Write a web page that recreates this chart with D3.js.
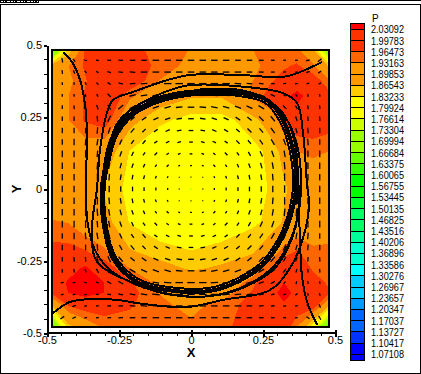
<!DOCTYPE html>
<html>
<head>
<meta charset="utf-8">
<script src="https://d3js.org/d3.v7.min.js"></script>
<style>
body { margin: 0; background: #fff; }
text { font-family: "Liberation Sans", Arial, sans-serif; fill: #000; }
.axis path, .axis line { stroke: #000; }
</style>
</head>
<body>
<div class="container"></div>
<script>
// legend levels, top to bottom
var levels = [2.03092, 1.99783, 1.96473, 1.93163, 1.89853, 1.86543, 1.83233, 1.79924, 1.76614, 1.73304,
              1.69994, 1.66684, 1.63375, 1.60065, 1.56755, 1.53445, 1.50135, 1.46825, 1.43516, 1.40206,
              1.36896, 1.33586, 1.30276, 1.26967, 1.23657, 1.20347, 1.17037, 1.13727, 1.10417, 1.07108];
var levelLabels = ["2.03092", "1.99783", "1.96473", "1.93163", "1.89853", "1.86543", "1.83233", "1.79924", "1.76614", "1.73304",
                   "1.69994", "1.66684", "1.63375", "1.60065", "1.56755", "1.53445", "1.50135", "1.46825", "1.43516", "1.40206",
                   "1.36896", "1.33586", "1.30276", "1.26967", "1.23657", "1.20347", "1.17037", "1.13727", "1.10417", "1.07108"];
// bandColors[i] is the band just above levels[i], the last one is below everything
var bandColors = ["#ff0000", "#ff3300", "#ff3300", "#ff6600", "#ff9900", "#ff9900", "#ffcc00", "#ffff00", "#ffff00", "#ccff00",
                  "#99ff00", "#99ff00", "#66ff00", "#33ff00", "#00ff00", "#00ff00", "#00ff33", "#00ff66", "#00ff66", "#00ff99",
                  "#00ffcc", "#00ffcc", "#00ffff", "#00ccff", "#00ccff", "#0099ff", "#0066ff", "#0066ff", "#0033ff", "#0000ff", "#0000ff"];

var axisTicks = [-0.5, -0.25, 0, 0.25, 0.5];
var axisTickLabels = ["-0.5", "-0.25", "0", "0.25", "0.5"];
var minorTicks = [-0.45, -0.4, -0.35, -0.3, -0.2, -0.15, -0.1, -0.05, 0.05, 0.1, 0.15, 0.2, 0.3, 0.35, 0.4, 0.45];

// pressure mesh, it is not uniform
var gridX = [-0.483, -0.427, -0.368, -0.299, -0.212, -0.108, 0, 0.108, 0.212, 0.274, 0.323, 0.368, 0.424, 0.479];
var gridY = [0.483, 0.427, 0.375, 0.323, 0.24, 0.128, 0, -0.115, -0.219, -0.274, -0.326, -0.361, -0.403, -0.479];
var pressure = [
  [1.60, 1.83, 1.97, 2.00, 1.98, 1.95, 1.93, 1.91, 1.93, 1.95, 1.95, 1.94, 1.88, 1.65],
  [1.90, 1.93, 1.97, 2.01, 2.00, 1.95, 1.92, 1.90, 1.92, 1.945, 1.96, 1.97, 1.94, 1.86],
  [1.90, 1.92, 1.96, 2.01, 2.00, 1.93, 1.90, 1.89, 1.93, 1.96, 1.98, 2.00, 1.99, 1.94],
  [1.90, 1.93, 1.97, 2.01, 1.94, 1.89, 1.87, 1.87, 1.94, 1.98, 2.01, 2.05, 2.00, 1.98],
  [1.89, 1.93, 1.97, 1.99, 1.88, 1.84, 1.82, 1.82, 1.85, 1.89, 1.97, 2.00, 2.00, 1.99],
  [1.89, 1.90, 1.90, 1.89, 1.83, 1.80, 1.79, 1.79, 1.82, 1.84, 1.88, 1.93, 1.94, 1.93],
  [1.89, 1.89, 1.88, 1.86, 1.82, 1.785, 1.765, 1.785, 1.815, 1.835, 1.86, 1.88, 1.89, 1.89],
  [1.935, 1.93, 1.90, 1.88, 1.83, 1.80, 1.785, 1.80, 1.825, 1.84, 1.87, 1.89, 1.90, 1.91],
  [1.98, 1.98, 1.97, 1.94, 1.87, 1.85, 1.835, 1.85, 1.86, 1.90, 1.95, 1.97, 1.94, 1.94],
  [1.98, 2.00, 2.04, 1.99, 1.93, 1.88, 1.86, 1.87, 1.90, 1.96, 2.00, 1.99, 1.96, 1.94],
  [1.98, 2.04, 2.06, 2.03, 1.97, 1.92, 1.89, 1.89, 1.95, 2.01, 2.03, 2.00, 1.98, 1.96],
  [1.97, 2.03, 2.05, 2.03, 1.98, 1.93, 1.90, 1.91, 1.97, 2.00, 2.06, 2.01, 2.00, 1.97],
  [1.87, 1.97, 1.99, 1.99, 1.97, 1.94, 1.92, 1.945, 1.98, 2.00, 2.02, 2.00, 2.00, 1.88],
  [1.62, 1.85, 1.90, 1.94, 1.945, 1.94, 1.94, 1.955, 1.985, 2.00, 2.00, 1.93, 1.80, 1.62]
];

// vector dashes: angle in degrees from horizontal, one row per vectorY
var vectorX = [-0.447, -0.406, -0.366, -0.325, -0.284, -0.244, -0.203, -0.163, -0.122, -0.081, -0.041, 0,
               0.041, 0.081, 0.122, 0.163, 0.203, 0.244, 0.284, 0.325, 0.366, 0.406, 0.447];
var vectorY = [0.447, 0.406, 0.366, 0.325, 0.284, 0.244, 0.203, 0.163, 0.122, 0.081, 0.041, 0,
               -0.041, -0.081, -0.122, -0.163, -0.203, -0.244, -0.284, -0.325, -0.366, -0.406, -0.447];
var vectorAngle = [
  [-80, -50, -20, -10, -5, -5, 0, 0, 0, 0, 0, 0, 0, 0, 0, 0, 0, 0, 0, 5, 5, 15, 40],
  [-80, -70, -50, -30, -15, -5, -5, 0, 0, 0, 0, 0, 0, 0, 0, 0, 0, 0, 0, 5, 10, 20, 35],
  [-85, -80, -65, -45, -30, -15, 5, 5, 5, 0, 0, 0, 0, 0, 0, -5, -5, -5, 0, 5, 10, 15, 30],
  [-90, -85, -75, -60, -45, 25, 15, 10, 5, 5, 0, 0, 0, -5, -5, -10, -15, -20, -25, -30, -50, -80, -85],
  [90, -85, -80, -70, -60, 40, 30, 25, 20, 15, 5, 0, -5, -10, -15, -20, -25, -30, -35, -45, -60, -80, -85],
  [90, 90, -85, -85, 65, 50, 40, 35, 25, 20, 10, 0, -10, -20, -25, -35, -40, -45, -50, -60, -70, -85, -85],
  [90, 90, 90, 85, 75, 60, 50, 45, 35, 25, 10, 0, -10, -25, -30, -40, -45, -50, -55, -65, -75, -85, -90],
  [90, 90, 85, 80, 75, 65, 55, 50, 35, 25, 15, 0, -15, -25, -35, -45, -50, -55, -60, -70, -80, -85, -90],
  [90, 90, 90, 85, 80, 70, 65, 55, 45, 35, 20, 0, -20, -35, -45, -55, -60, -65, -70, -80, -85, -90, -90],
  [90, 90, 90, 85, 80, 75, 70, 65, 55, 45, 25, 0, -25, -45, -55, -65, -70, -75, -80, -85, -85, -90, -90],
  [90, 90, 90, 90, 85, 80, 80, 75, 70, 65, 45, 0, -45, -65, -70, -75, -80, -80, -85, -90, -90, -90, -90],
  [90, 90, 90, 90, 90, 90, 90, 90, 90, 90, 90, 0, 90, 90, 90, 90, 90, 90, 90, 90, 90, 90, 90],
  [90, 90, 90, 90, -85, -80, -80, -75, -70, -65, -45, 0, 45, 65, 70, 75, 80, 80, 85, 90, 90, 90, 90],
  [90, 90, 90, -85, -80, -75, -70, -65, -55, -45, -25, 0, 25, 45, 55, 65, 70, 75, 80, 85, 85, 90, 90],
  [90, 90, 90, -85, -80, -70, -65, -55, -45, -35, -20, 0, 20, 35, 45, 55, 60, 65, 70, 80, 85, 90, 90],
  [90, 90, -85, -80, -75, -65, -55, -50, -35, -25, -15, 0, 15, 25, 35, 45, 50, 55, 60, 70, 80, 85, 90],
  [90, 90, -90, -85, -75, -60, -50, -45, -35, -25, -10, 0, 10, 25, 30, 40, 45, 50, 55, 65, 75, 85, 90],
  [90, -85, -85, -75, -65, -50, -40, -35, -25, -20, -10, 0, 10, 20, 25, 35, 40, 45, 50, 60, 70, 85, -85],
  [-90, -80, -70, -60, -50, -40, -30, -25, -20, -15, -5, 0, 5, 10, 15, 20, 25, 30, 35, 55, 75, -85, -85],
  [10, 10, -10, -20, -30, -30, -20, -15, -10, -5, 0, 0, 0, 5, 5, 10, 15, 20, 30, 45, 75, -80, -80],
  [15, 15, 5, 0, -5, -10, -10, -10, -5, -5, 0, 0, 0, 0, 5, 5, 5, 10, 15, 20, 40, -75, -75],
  [25, 20, 15, 10, 5, 0, -5, -5, -5, 0, 0, 0, 0, 0, 0, 0, 0, 5, 5, 5, 10, -50, -65],
  [35, 25, 15, 10, 5, 5, 0, 0, 0, 0, 0, 0, 0, 0, 0, 0, 0, 0, 0, 0, 5, -30, -60]
];
// speed for one quadrant, rows and columns count out from the centre
var vectorSpeed = [
  [0, 1, 2, 3, 4, 5, 6, 7, 8, 8, 7, 7],
  [1, 1, 2, 3, 4, 5, 6, 7, 8, 8, 7, 7],
  [2, 2, 3, 3, 4, 5, 6, 7, 8, 8, 7, 7],
  [3, 3, 3, 4, 4, 5, 6, 7, 7, 8, 7, 7],
  [4, 4, 4, 4, 5, 5, 6, 7, 7, 7, 7, 6],
  [5, 5, 5, 5, 5, 6, 6, 7, 7, 6, 6, 6],
  [6, 6, 6, 6, 6, 6, 7, 7, 6, 5, 5, 5],
  [7, 7, 7, 7, 7, 7, 7, 6, 5, 4, 4, 4],
  [8, 8, 8, 7, 7, 7, 6, 5, 3, 3, 3, 3],
  [8, 8, 8, 8, 7, 6, 5, 4, 3, 3, 3, 3],
  [7, 7, 7, 7, 7, 6, 5, 4, 3, 3, 4, 4],
  [7, 7, 7, 7, 6, 6, 5, 4, 3, 3, 4, 5]
];

// streamlines, [x, y]
var ringOuter = [[-0.309, 0.007], [-0.292, 0.101], [-0.264, 0.194], [-0.201, 0.267], [-0.118, 0.309], [-0.014, 0.333], [0.083, 0.337],
                 [0.17, 0.333], [0.264, 0.309], [0.319, 0.24], [0.354, 0.135], [0.365, 0.007], [0.344, -0.101], [0.309, -0.184],
                 [0.25, -0.264], [0.16, -0.323], [0.066, -0.354], [-0.083, -0.351], [-0.188, -0.323], [-0.271, -0.24], [-0.306, -0.101]];
var ringInner = [[-0.3, 0.007], [-0.283, 0.098], [-0.256, 0.188], [-0.195, 0.259], [-0.114, 0.3], [-0.014, 0.323], [0.081, 0.327],
                 [0.165, 0.323], [0.256, 0.3], [0.309, 0.233], [0.343, 0.131], [0.354, 0.007], [0.334, -0.098], [0.3, -0.178],
                 [0.243, -0.256], [0.155, -0.313], [0.064, -0.343], [-0.081, -0.34], [-0.182, -0.313], [-0.263, -0.233], [-0.297, -0.098]];
var streamTopLeft = [[-0.444, 0.476], [-0.413, 0.441], [-0.385, 0.378], [-0.368, 0.292], [-0.361, 0.188], [-0.365, 0.007], [-0.358, -0.125],
                     [-0.33, -0.219], [-0.281, -0.281], [-0.212, -0.323], [-0.108, -0.358], [0.031, -0.375], [0.17, -0.344], [0.274, -0.281],
                     [0.337, -0.194], [0.372, -0.09], [0.382, 0.014], [0.372, 0.135], [0.337, 0.233], [0.274, 0.299], [0.17, 0.337],
                     [0.049, 0.344], [-0.073, 0.33], [-0.177, 0.295], [-0.253, 0.233], [-0.288, 0.135], [-0.302, 0.007]];
var streamTopRight = [[0.455, 0.441], [0.378, 0.406], [0.319, 0.389], [0.17, 0.396], [-0.003, 0.396], [-0.083, 0.378], [-0.201, 0.337],
                      [-0.271, 0.309], [-0.292, 0.264], [-0.316, 0.135], [-0.326, 0.007], [-0.344, -0.142], [-0.326, -0.253], [-0.201, -0.326],
                      [-0.083, -0.365], [0.066, -0.372], [0.188, -0.34], [0.292, -0.274], [0.351, -0.17], [0.375, -0.056], [0.378, 0.014]];
var streamBottomLeft = [[-0.479, -0.431], [-0.42, -0.392], [-0.34, -0.382], [-0.257, -0.385], [-0.167, -0.399], [-0.014, -0.41], [0.111, -0.385],
                        [0.274, -0.351], [0.344, -0.274], [0.389, -0.17], [0.41, -0.056], [0.403, 0.014], [0.389, 0.194], [0.368, 0.299],
                        [0.319, 0.333], [0.194, 0.354], [-0.003, 0.361], [-0.049, 0.351], [-0.153, 0.309], [-0.222, 0.264], [-0.281, 0.17],
                        [-0.306, 0.042], [-0.306, -0.101], [-0.271, -0.212]];
var streamBottomRight = [[0.438, -0.472], [0.403, -0.392], [0.385, -0.299], [0.378, -0.16], [0.372, -0.021], [0.365, 0.135], [0.33, 0.247],
                         [0.267, 0.309], [0.17, 0.344], [0.031, 0.347]];
var openStreams = [streamTopLeft, streamTopRight, streamBottomLeft, streamBottomRight];

//Makes the stage
function makeStage(w, h) {
    var stage = d3.select(".container")
    .insert("svg")
    .attr("width",w)
    .attr("height",h)
    .style("display","block")
    .attr("shape-rendering","crispEdges")
    return stage;
}

var mystage = makeStage(421,374);

var x = d3.scaleLinear().domain([-0.5,0.5]).range([47,335]);
var y = d3.scaleLinear().domain([-0.5,0.5]).range([333,45]);
var legendY = d3.scaleLinear().domain([0,levels.length-1]).range([29.3,354.3]);
var speedLength = d3.scaleLinear().domain([0,8]).range([0,7.5]);

//window border and the little title strip
function drawWindow(stage) {
    stage.append("path").attr("d","M0.5,374V4.5H420.5V373.5H0").attr("fill","none").attr("stroke","#000");
    stage.append("line").attr("x1",0).attr("x2",421).attr("y1",0.5).attr("y2",0.5).attr("stroke","#000");
    stage.append("rect").attr("x",0).attr("y",0).attr("width",39).attr("height",3).attr("fill","#000");
    stage.append("line").attr("x1",1).attr("x2",38).attr("y1",1.5).attr("y2",1.5)
      .attr("stroke","#fff").attr("stroke-dasharray","2 1 1 2 3 1");
}

//filled contour bands, lowest first so higher ones paint over
function drawContours(stage) {
    var gx = d3.scaleLinear().domain(d3.range(gridX.length)).range(gridX).clamp(true);
    var gy = d3.scaleLinear().domain(d3.range(gridY.length)).range(gridY).clamp(true);
    var project = d3.geoTransform({
        point: function(cx, cy) { this.stream.point(x(gx(cx-0.5)), y(gy(cy-0.5))); }
    });
    var path = d3.geoPath(project);
    var ascending = levels.slice().reverse();
    var bands = d3.contours()
      .size([gridX.length, gridY.length])
      .thresholds(ascending)(d3.merge(pressure));

    stage.append("rect")
      .attr("x",x(gridX[0])).attr("y",y(gridY[0]))
      .attr("width",x(gridX[gridX.length-1])-x(gridX[0]))
      .attr("height",y(gridY[gridY.length-1])-y(gridY[0]))
      .attr("fill",bandColors[bandColors.length-1]);

    stage.append("g").selectAll("path").data(bands).enter().append("path")
      .attr("d",path)
      .attr("fill",function(d) { return bandColors[levels.indexOf(d.value)]; });
}

function drawStreams(stage) {
    var line = d3.line().x(function(d) { return x(d[0]); }).y(function(d) { return y(d[1]); }).curve(d3.curveCatmullRom);
    var loop = d3.line().x(function(d) { return x(d[0]); }).y(function(d) { return y(d[1]); }).curve(d3.curveCatmullRomClosed);
    var g = stage.append("g").attr("fill","none").attr("stroke","#000");
    g.selectAll("path.open").data(openStreams).enter().append("path").attr("class","open")
      .attr("d",line).attr("stroke-width",2);
    g.append("path").attr("d",loop(ringOuter)).attr("stroke-width",4);
    g.append("path").attr("d",loop(ringInner)).attr("stroke-width",2);
}

function drawVectors(stage) {
    var cells = [];
    vectorY.forEach(function(vy, j) {
        vectorX.forEach(function(vx, i) {
            var speed = vectorSpeed[Math.abs(j-11)][Math.abs(i-11)];
            cells.push({x:vx, y:vy, a:vectorAngle[j][i]*Math.PI/180, len:speedLength(speed)});
        });
    });
    // crispEdges snaps these short dashes flat, so not for them
    stage.append("g").attr("shape-rendering","geometricPrecision").selectAll("line").data(cells).enter().append("line")
      .attr("x1",function(d) { return x(d.x)-Math.cos(d.a)*d.len/2; })
      .attr("y1",function(d) { return y(d.y)+Math.sin(d.a)*d.len/2; })
      .attr("x2",function(d) { return x(d.x)+Math.cos(d.a)*d.len/2; })
      .attr("y2",function(d) { return y(d.y)-Math.sin(d.a)*d.len/2; })
      .attr("stroke","#000").attr("stroke-width",1.3);
}

function drawAxes(stage) {
    stage.append("rect")
      .attr("x",x(gridX[0])).attr("y",y(gridY[0]))
      .attr("width",x(gridX[gridX.length-1])-x(gridX[0]))
      .attr("height",y(gridY[gridY.length-1])-y(gridY[0]))
      .attr("fill","none").attr("stroke","#000").attr("stroke-width",2);

    var fmt = function(d) { return axisTickLabels[axisTicks.indexOf(d)]; };
    var left = d3.axisLeft(y).tickValues(axisTicks).tickFormat(fmt).tickSize(4).tickPadding(1).tickSizeOuter(0);
    var bottom = d3.axisBottom(x).tickValues(axisTicks).tickFormat(fmt).tickSize(4).tickPadding(0).tickSizeOuter(0);
    var leftG = stage.append("g").attr("class","axis").attr("transform","translate(47,0)").call(left);
    var bottomG = stage.append("g").attr("class","axis").attr("transform","translate(0,332.5)").call(bottom);
    leftG.select(".domain").attr("stroke-width",2);
    bottomG.select(".domain").attr("stroke-width",2);
    leftG.selectAll(".tick line").attr("stroke-width",2).attr("x2",-3);
    bottomG.selectAll(".tick line").attr("stroke-width",2).attr("y1",-3);
    leftG.selectAll("text").style("font-size","11px").style("font-family","Liberation Sans");
    bottomG.selectAll("text").style("font-size","11px").style("font-family","Liberation Sans");

    stage.append("g").attr("class","axis").attr("transform","translate(47,0)")
      .call(d3.axisLeft(y).tickValues(minorTicks).tickFormat("").tickSize(3).tickSizeOuter(0));
    stage.append("g").attr("class","axis").attr("transform","translate(0,332.5)")
      .call(d3.axisBottom(x).tickValues(minorTicks).tickFormat("").tickSize(3).tickSizeOuter(0));

    stage.append("text").attr("x",191).attr("y",357).attr("text-anchor","middle")
      .style("font-size","13px").style("font-weight","bold").text("X");
    stage.append("text").attr("transform","translate(21,189) rotate(-90)").attr("text-anchor","middle")
      .style("font-size","13px").style("font-weight","bold").text("Y");
}

function drawLegend(stage) {
    var edges = [23].concat(levels.map(function(d, i) { return legendY(i); })).concat([360.6]);
    stage.append("g").selectAll("rect").data(bandColors).enter().append("rect")
      .attr("x",350.5)
      .attr("width",13.5)
      .attr("y",function(d, i) { return edges[i]; })
      .attr("height",function(d, i) { return edges[i+1]-edges[i]; })
      .attr("fill",function(d) { return d; })
      .attr("stroke","#000");
    stage.append("g").selectAll("text").data(levelLabels).enter().append("text")
      .attr("x",371)
      .attr("y",function(d, i) { return legendY(i)+4; })
      .attr("textLength",33)
      .attr("lengthAdjust","spacingAndGlyphs")
      .style("font-size","10px")
      .text(function(d) { return d; });
    stage.append("text").attr("x",372).attr("y",22).style("font-size","10px").text("P");
}

drawWindow(mystage);
drawContours(mystage);
drawVectors(mystage);
drawStreams(mystage);
drawAxes(mystage);
drawLegend(mystage);
</script>
</body>
</html>
